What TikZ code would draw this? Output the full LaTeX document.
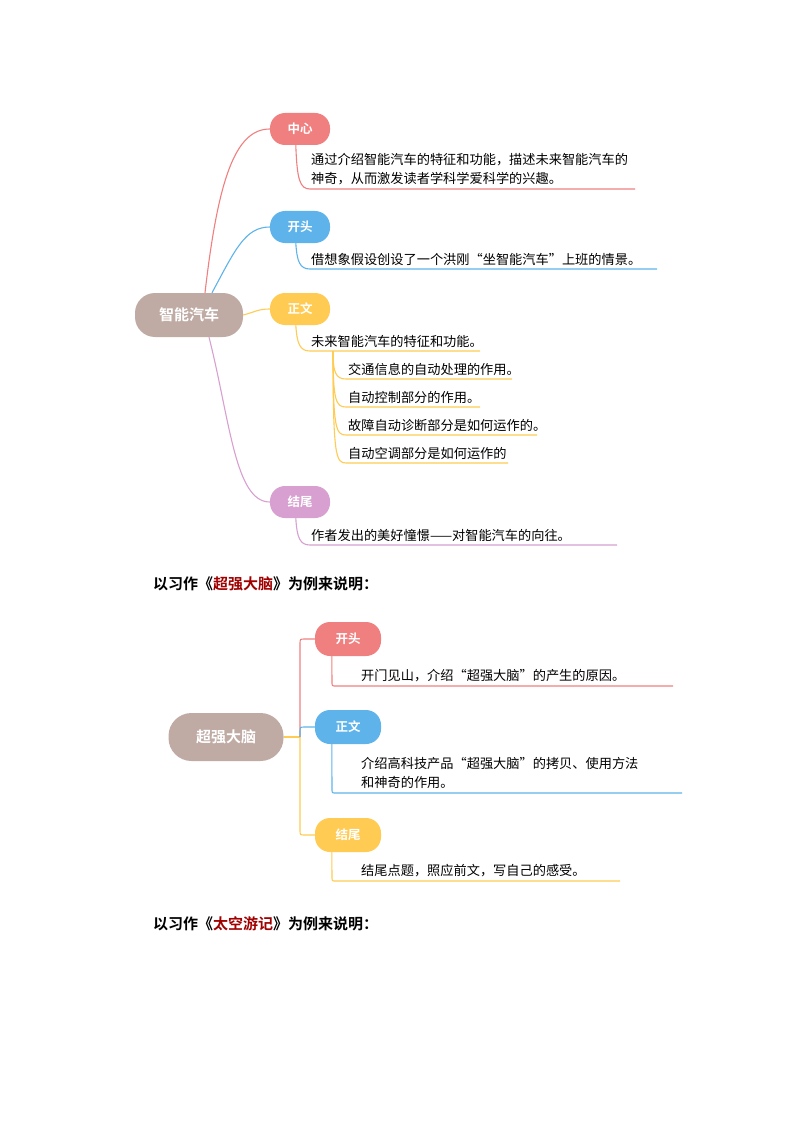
\documentclass[tikz,border=0pt]{standalone}
\usepackage{fontspec}
\setmainfont{Noto Sans CJK SC}
\newfontfamily\cjkbold{Noto Sans CJK SC Bold}
\definecolor{cRoot}{HTML}{BFAAA4}
\definecolor{cRed}{HTML}{F07F7F}
\definecolor{cBlue}{HTML}{5DB3EA}
\definecolor{cYellow}{HTML}{FFCB52}
\definecolor{cPurple}{HTML}{D7A0D0}
\definecolor{cTitle}{HTML}{A00000}
\tikzset{
  root/.style={fill=cRoot,text=white,rounded corners=20pt,minimum height=44pt,minimum width=108pt,font=\cjkbold\fontsize{15}{15}\selectfont},
  topic/.style={fill=#1,text=white,rounded corners=15pt,minimum height=32pt,minimum width=60pt,font=\cjkbold\fontsize{12.5}{12.5}\selectfont},
  leaf/.style={anchor=west,align=left,inner sep=0pt,font=\fontsize{13.2}{19.5}\selectfont},
  heading/.style={anchor=west,inner sep=0pt,font=\cjkbold\fontsize{15}{15}\selectfont},
  link/.style={draw=#1,line width=1.1pt}
}
\begin{document}
\begin{tikzpicture}[x=1pt,y=-1pt]
  \useasboundingbox (0,0) rectangle (794,1123);
  % first map
  \node[root] (car) at (189,315) {智能汽车};
  \node[topic=cRed] (zx) at (300,129) {中心};
  \node[topic=cBlue] (kt) at (300,227) {开头};
  \node[topic=cYellow] (zw) at (300,309) {正文};
  \node[topic=cPurple] (jw) at (300,502) {结尾};
  \node[leaf] (zx1) at (311,169) {通过介绍智能汽车的特征和功能，描述未来智能汽车的\\神奇，从而激发读者学科学爱科学的兴趣。};
  \node[leaf] (kt1) at (311,259) {借想象假设创设了一个洪刚“坐智能汽车”上班的情景。};
  \node[leaf] (zw1) at (311,341) {未来智能汽车的特征和功能。};
  \node[leaf] (zw2) at (348,369) {交通信息的自动处理的作用。};
  \node[leaf] (zw3) at (348,397) {自动控制部分的作用。};
  \node[leaf] (zw4) at (348,425) {故障自动诊断部分是如何运作的。};
  \node[leaf] (zw5) at (348,453) {自动空调部分是如何运作的};
  \node[leaf] (jw1) at (311,535) {作者发出的美好憧憬——对智能汽车的向往。};
  \coordinate (zxe) at (635,189);
  \coordinate (kte) at (657,269);
  \coordinate (zw1e) at (480,351);
  \coordinate (zw2e) at (512,379);
  \coordinate (zw3e) at (480,407);
  \coordinate (zw4e) at (537,435);
  \coordinate (zw5e) at (508,463);
  \coordinate (jwe) at (617,545);

  \draw[link=cRed] (car.north) ++(16,0) .. controls (218,180) and (235,129) .. (zx.west);
  \draw[link=cBlue] (car.north) ++(23,0) .. controls (235,250) and (245,227) .. (kt.west);
  \draw[link=cYellow] (car.east) .. controls (255,312) and (258,309) .. (zw.west);
  \draw[link=cPurple] (car.south) ++(20,0) .. controls (230,420) and (235,502) .. (jw.west);

  \draw[link=cRed] (zx.south west) ++(26,0) .. controls (297,180) and (300,189) .. (310,189) -- (zxe);
  \draw[link=cBlue] (kt.south west) ++(26,0) .. controls (297,262) and (300,269) .. (310,269) -- (kte);
  \draw[link=cYellow] (zw.south west) ++(26,0) .. controls (297,344) and (300,351) .. (310,351) -- (zw1e);
  \foreach \y/\e in {379/zw2e,407/zw3e,435/zw4e,463/zw5e}
    \draw[link=cYellow] (333,351) .. controls (333,\y-6) and (336,\y) .. (346,\y) -- (\e);
  \draw[link=cPurple] (jw.south west) ++(26,0) .. controls (297,538) and (300,545) .. (310,545) -- (jwe);

  % heading
  \node[heading] (h1) at (153,584) {以习作《\textcolor{cTitle}{超强大脑}》为例来说明：};

  % second map
  \node[root,minimum width=115pt,minimum height=48pt,rounded corners=23pt] (brain) at (226,737) {超强大脑};
  \node[topic=cRed,minimum width=66pt,minimum height=34pt] (bk) at (348,639) {开头};
  \node[topic=cBlue,minimum width=66pt,minimum height=34pt] (bz) at (348,727) {正文};
  \node[topic=cYellow,minimum width=66pt,minimum height=34pt] (bj) at (348,835) {结尾};
  \node[leaf] (bk1) at (361,676) {开门见山，介绍“超强大脑”的产生的原因。};
  \node[leaf] (bz1) at (361,773) {介绍高科技产品“超强大脑”的拷贝、使用方法\\和神奇的作用。};
  \node[leaf] (bj1) at (361,871) {结尾点题，照应前文，写自己的感受。};
  \coordinate (bke) at (673,686);
  \coordinate (bze) at (682,793);
  \coordinate (bje) at (620,881);

  \draw[link=cYellow] (brain.east) -- (300,737);
  \draw[link=cRed] (300,737) -- (300,644) .. controls (300,639) .. (305,639) -- (bk.west);
  \draw[link=cBlue] (300,737) -- (300,732) .. controls (300,727) .. (305,727) -- (bz.west);
  \draw[link=cYellow] (300,737) -- (300,830) .. controls (300,835) .. (305,835) -- (bj.west);
  \draw[link=cRed] (bk.south west) ++(17,0) -- (332,682) .. controls (332,686) .. (336,686) -- (bke);
  \draw[link=cBlue] (bz.south west) ++(17,0) -- (332,789) .. controls (332,793) .. (336,793) -- (bze);
  \draw[link=cYellow] (bj.south west) ++(17,0) -- (332,877) .. controls (332,881) .. (336,881) -- (bje);

  \node[heading] (h2) at (153,924) {以习作《\textcolor{cTitle}{太空游记}》为例来说明：};
\end{tikzpicture}
\end{document}
